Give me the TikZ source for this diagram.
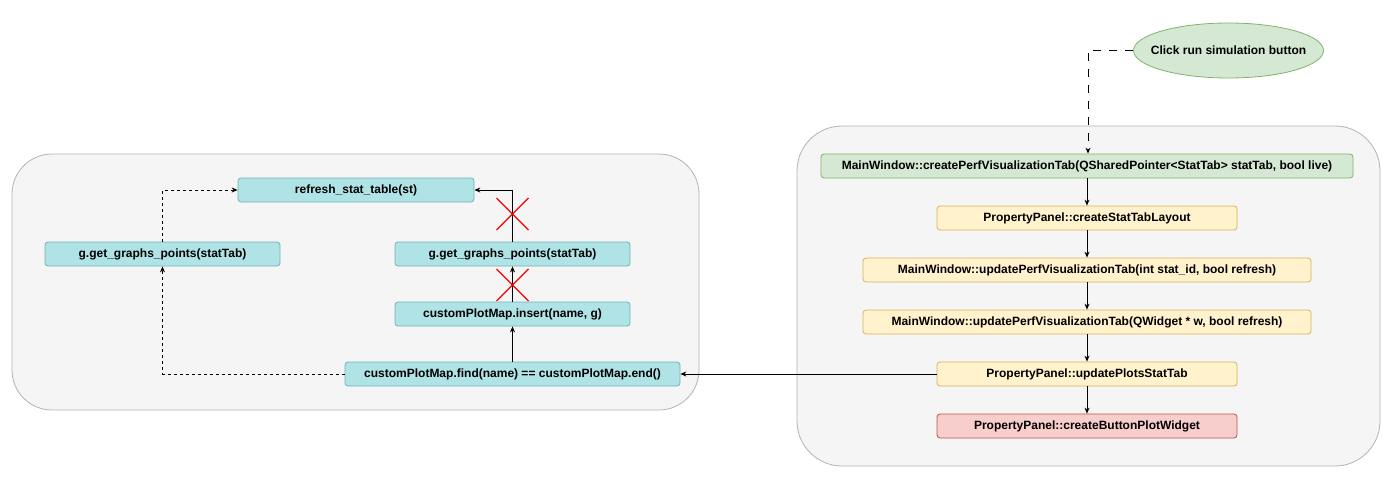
\documentclass[tikz,border=0pt]{standalone}
\usepackage{fontspec}
\setmainfont{Liberation Sans}
\usetikzlibrary{arrows.meta,shapes.geometric}
\definecolor{contfill}{HTML}{F5F5F5}
\definecolor{contdraw}{HTML}{B3B3B3}
\definecolor{cyanfill}{HTML}{B0E3E6}
\definecolor{cyandraw}{HTML}{0E8088}
\definecolor{yfill}{HTML}{FFF2CC}
\definecolor{ydraw}{HTML}{D6B656}
\definecolor{gfill}{HTML}{D5E8D4}
\definecolor{gdraw}{HTML}{82B366}
\definecolor{rfill}{HTML}{F8CECC}
\definecolor{rdraw}{HTML}{B85450}
\tikzset{
  box/.style={rectangle, rounded corners=3pt, minimum height=24pt, inner sep=0pt,
    font=\fontsize{12}{14}\selectfont\bfseries, line width=0.8pt},
  cbox/.style={box, fill=cyanfill, draw=cyandraw!60},
  ybox/.style={box, fill=yfill, draw=ydraw},
  gbox/.style={box, fill=gfill, draw=gdraw},
  rbox/.style={box, fill=rfill, draw=rdraw},
  container/.style={fill=contfill, draw=contdraw, line width=0.8pt},
  conn/.style={draw=black, line width=0.9pt, -{Stealth[length=6pt,width=5pt]}},
  sdash/.style={conn, dash pattern=on 3pt off 3pt},
  ldash/.style={conn, dash pattern=on 8pt off 8pt},
  cross/.style={draw=red, line width=1.2pt},
}
\begin{document}
\begin{tikzpicture}[x=1pt,y=-1pt]
\useasboundingbox (0,0) rectangle (1395,482);
% containers
\draw[container, rounded corners=40pt] (12,154) rectangle (699,410);
\draw[container, rounded corners=45pt] (797,126) rectangle (1380,466);
% right column
\node[ellipse, fill=gfill, draw=gdraw, line width=0.8pt, minimum width=190pt, minimum height=55pt,
  inner xsep=-14pt, inner ysep=0pt,
  font=\fontsize{12}{14}\selectfont\bfseries] (click) at (1228.5,50.5) {Click run simulation button};
\node[gbox, minimum width=532pt] (create) at (1087,166) {MainWindow::createPerfVisualizationTab(QSharedPointer<StatTab> statTab, bool live)};
\node[ybox, minimum width=300pt] (layout) at (1087,218) {PropertyPanel::createStatTabLayout};
\node[ybox, minimum width=448pt] (upd1) at (1087,270) {MainWindow::updatePerfVisualizationTab(int stat\_id, bool refresh)};
\node[ybox, minimum width=448pt] (upd2) at (1087,322) {MainWindow::updatePerfVisualizationTab(QWidget * w, bool refresh)};
\node[ybox, minimum width=300pt] (plots) at (1087,374) {PropertyPanel::updatePlotsStatTab};
\node[rbox, minimum width=300pt] (button) at (1087,426) {PropertyPanel::createButtonPlotWidget};
% left column
\node[cbox, minimum width=236pt] (refresh) at (356,190) {refresh\_stat\_table(st)};
\node[cbox, minimum width=235pt] (gl) at (162.5,254) {g.get\_graphs\_points(statTab)};
\node[cbox, minimum width=235pt] (gr) at (512.5,254) {g.get\_graphs\_points(statTab)};
\node[cbox, minimum width=235pt] (ins) at (512.5,314) {customPlotMap.insert(name, g)};
\node[cbox, minimum width=335pt] (find) at (512.5,374) {customPlotMap.find(name) == customPlotMap.end()};
\coordinate (cl) at (1088,50.5);
% connectors right
\draw[ldash] (click.west) -- (cl) -- (cl |- create.north);
\draw[conn] (create) -- (layout);
\draw[conn] (layout) -- (upd1);
\draw[conn] (upd1) -- (upd2);
\draw[conn] (upd2) -- (plots);
\draw[conn] (plots) -- (button);
\draw[conn] (plots.west) -- (find.east);
% connectors left
\draw[conn] (find) -- (ins);
\draw[conn] (ins) -- (gr);
\draw[conn] (gr.north) |- (refresh.east);
\draw[sdash] (find.west) -| (gl.south);
\draw[sdash] (gl.north) |- (refresh.west);
% red crosses
\coordinate (x1) at (512.5,214);
\coordinate (x2) at (512.5,285);
\draw[cross] ([shift={(-16,-16)}]x1) -- ([shift={(16,16)}]x1);
\draw[cross] ([shift={(-16,16)}]x1) -- ([shift={(16,-16)}]x1);
\draw[cross] ([shift={(-16,-16)}]x2) -- ([shift={(16,16)}]x2);
\draw[cross] ([shift={(-16,16)}]x2) -- ([shift={(16,-16)}]x2);
\end{tikzpicture}
\end{document}
